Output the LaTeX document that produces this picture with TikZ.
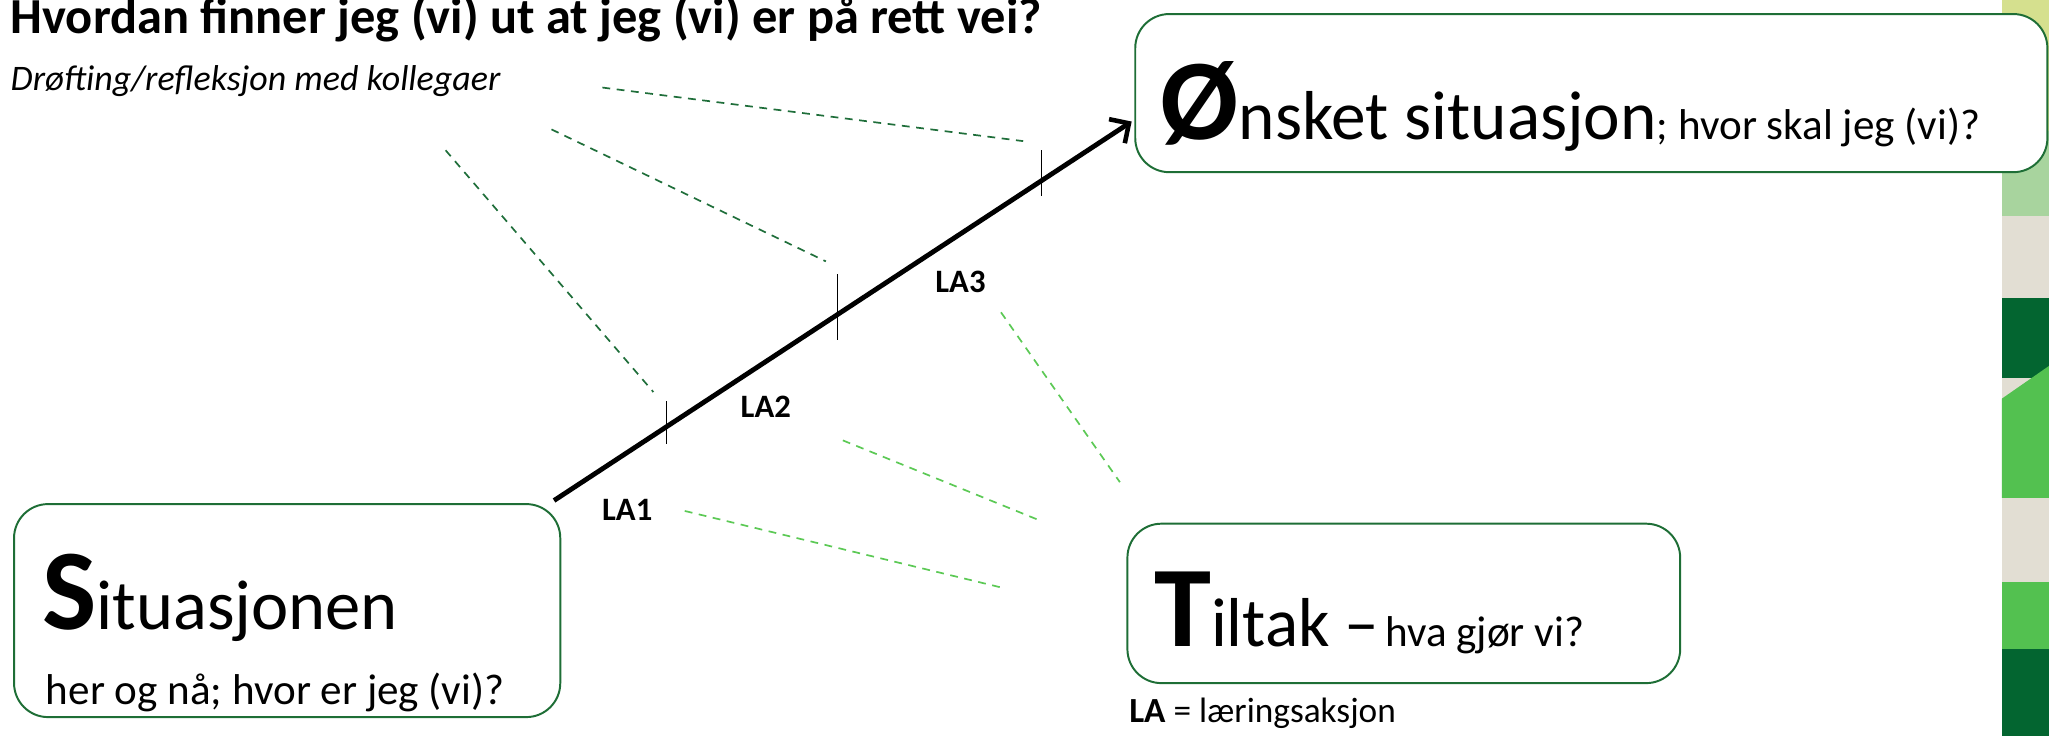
\documentclass[tikz,border=0pt]{standalone}
\usepackage{fontspec}
\setmainfont{Carlito}
\usetikzlibrary{arrows.meta,calc}
\definecolor{boxgreen}{HTML}{1E6E36}
\definecolor{darkdash}{HTML}{1F6E3A}
\definecolor{lightdash}{HTML}{5CC955}
\definecolor{stripyellow}{HTML}{D5E08E}
\definecolor{stripelight}{HTML}{A8D49E}
\definecolor{stripbeige}{HTML}{E2DED3}
\definecolor{stripdark}{HTML}{036530}
\definecolor{stripgreen}{HTML}{53C150}
\tikzset{
  boxstyle/.style={draw=boxgreen, line width=1.5pt, rounded corners=26pt, fill=white, inner sep=0pt, anchor=north west},
  txt/.style={inner sep=0pt, anchor=base west, text=black},
  lalabel/.style={inner sep=0pt, anchor=center, font=\fontsize{25}{25}\selectfont\bfseries},
  mainarrow/.style={line width=3.7pt, -{Straight Barb[length=11pt,width=22pt,line width=3.5pt]}},
  tickline/.style={line width=1.1pt, black},
  darkdashed/.style={draw=darkdash, line width=1.3pt, dash pattern=on 6pt off 5pt},
  lightdashed/.style={draw=lightdash, line width=1.3pt, dash pattern=on 6pt off 5pt}
}
\begin{document}
\begin{tikzpicture}[x=1pt,y=-1pt]
\useasboundingbox (0,0) rectangle (1568,563);
% right stripe
\fill[stripyellow] (1532,0) rectangle (1568,100);
\fill[stripelight] (1532,100) rectangle (1568,165);
\fill[stripbeige] (1532,165) rectangle (1568,445);
\fill[stripdark] (1532,228) rectangle (1568,289);
\fill[stripgreen] (1532,305) -- (1568,280) -- (1568,381) -- (1532,381) -- cycle;
\fill[stripbeige] (1532,381) rectangle (1568,445);
\fill[stripgreen] (1532,445) rectangle (1568,497);
\fill[stripdark] (1532,497) rectangle (1568,563);

% title texts
\node[txt] (title) at (8,26) {\fontsize{38.6}{40}\selectfont\bfseries Hvordan finner jeg (vi) ut at jeg (vi) er på rett vei?};
\node[txt] (sub) at (8,69) {\fontsize{27.5}{30}\selectfont\itshape Drøfting/refleksjon med kollegaer};

% boxes
\node[boxstyle, minimum width=418pt, minimum height=163pt] (sit) at (10,385) {};
\node[boxstyle, minimum width=698pt, minimum height=121pt] (onsket) at (868,10) {};
\node[boxstyle, minimum width=423pt, minimum height=122pt] (tiltak) at (862,400) {};

% box texts
\node[txt] (sittext) at (32,482) {{\fontsize{88}{88}\selectfont\bfseries S}{\fontsize{54}{54}\selectfont ituasjonen}};
\node[txt] (sitsub) at (35,539) {\fontsize{33}{33}\selectfont her og nå; hvor er jeg (vi)?};
\node[txt] (onsktext) at (888,107) {{\fontsize{88}{88}\selectfont\bfseries Ø}{\fontsize{53}{53}\selectfont nsket situasjon}{\fontsize{33}{33}\selectfont; hvor skal jeg (vi)?}};
\node[txt] (tilttext) at (883,495) {{\fontsize{88}{88}\selectfont\bfseries T}{\fontsize{53}{53}\selectfont iltak\hspace{11pt}–}\hspace{5pt}{\fontsize{33}{33}\selectfont hva gjør vi?}};
\node[txt] (latext) at (864,553) {\fontsize{27}{27}\selectfont\textbf{LA} = læringsaksjon};

% main arrow
\coordinate (a0) at (424,383);
\coordinate (a1) at (866,93);
\draw[mainarrow] (a0) -- (a1);

% ticks
\coordinate (t1a) at (510,307); \coordinate (t1b) at (510,340);
\coordinate (t2a) at (641,210); \coordinate (t2b) at (641,260);
\coordinate (t3a) at (797,115); \coordinate (t3b) at (797,150);
\draw[tickline] (t1a) -- (t1b);
\draw[tickline] (t2a) -- (t2b);
\draw[tickline] (t3a) -- (t3b);

% labels
\node[lalabel] (la1) at (480,390) {LA1};
\node[lalabel] (la2) at (586,311) {LA2};
\node[lalabel] (la3) at (735,216) {LA3};

% dashed lines
\coordinate (d1a) at (461,67);  \coordinate (d1b) at (783,108);
\coordinate (d2a) at (422,99);  \coordinate (d2b) at (632,200);
\coordinate (d3a) at (341,115); \coordinate (d3b) at (500,300);
\coordinate (l1a) at (766,239); \coordinate (l1b) at (857,369);
\coordinate (l2a) at (645,337); \coordinate (l2b) at (795,398);
\coordinate (l3a) at (524,391); \coordinate (l3b) at (768,450);
\draw[darkdashed] (d1a) -- (d1b);
\draw[darkdashed] (d2a) -- (d2b);
\draw[darkdashed] (d3a) -- (d3b);
\draw[lightdashed] (l1a) -- (l1b);
\draw[lightdashed] (l2a) -- (l2b);
\draw[lightdashed] (l3a) -- (l3b);
\end{tikzpicture}
\end{document}
